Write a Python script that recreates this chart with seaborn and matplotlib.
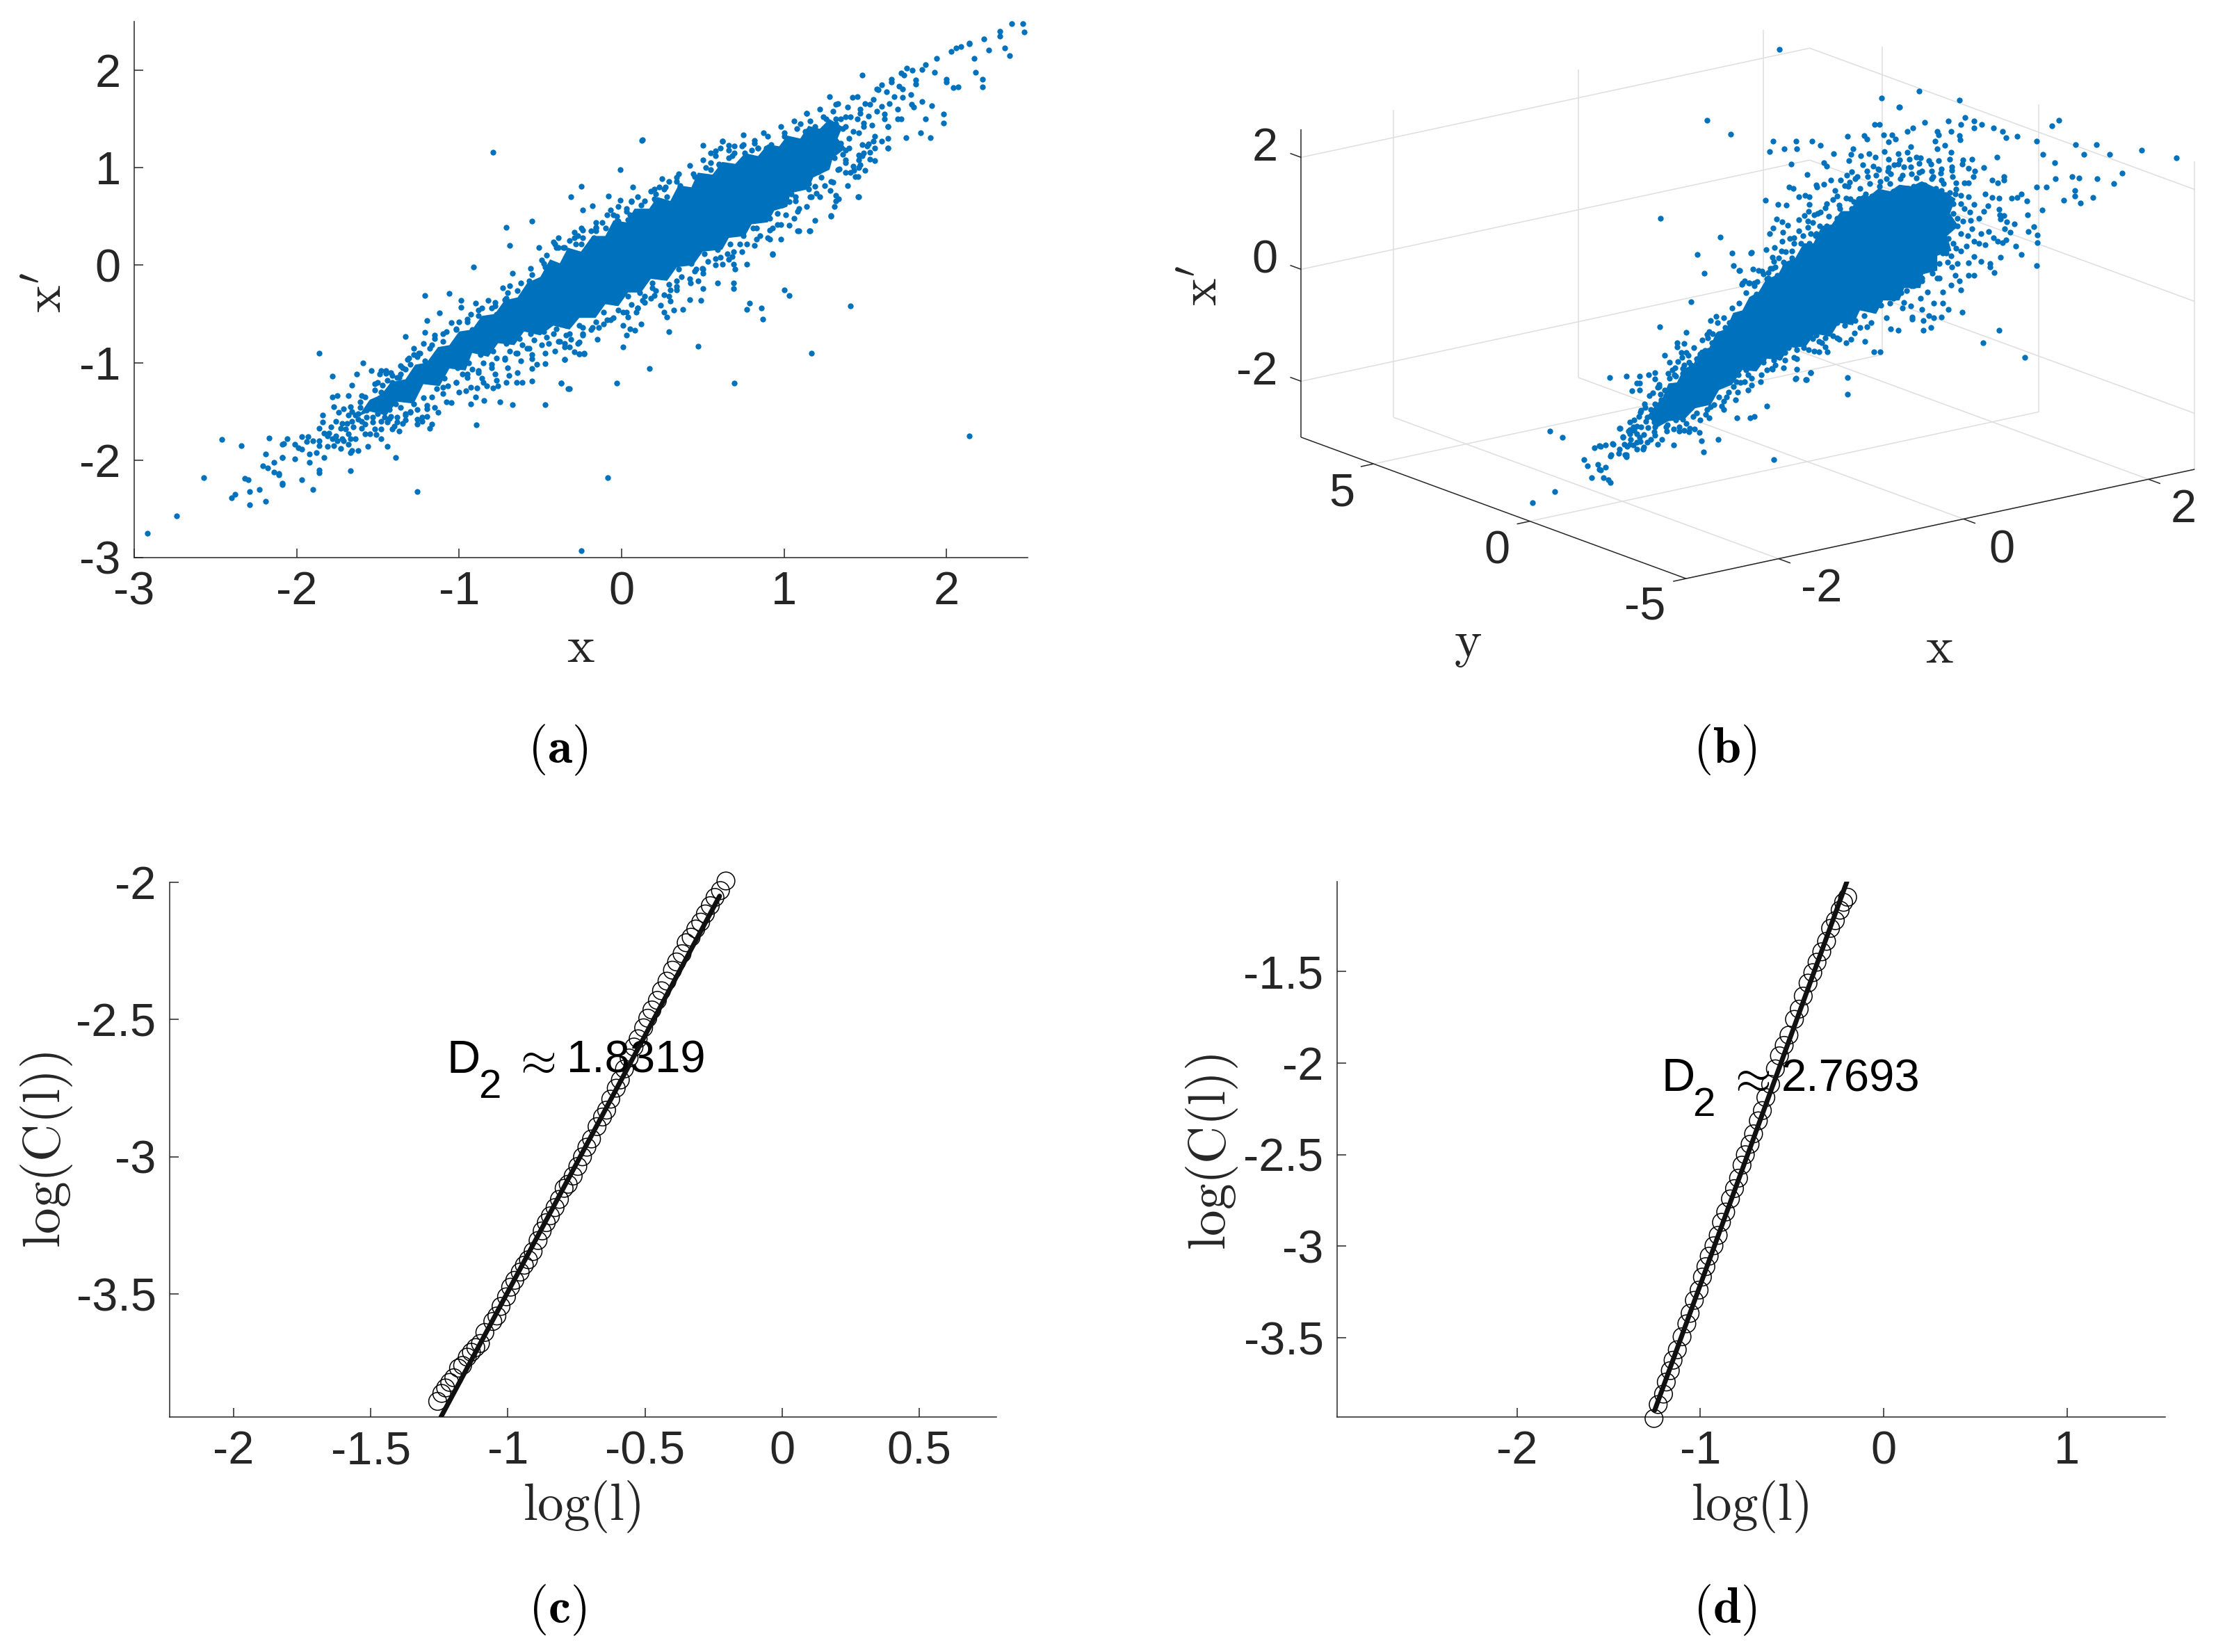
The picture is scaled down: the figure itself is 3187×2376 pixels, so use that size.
import numpy as np
import matplotlib
matplotlib.use("Agg")
import matplotlib.pyplot as plt
import seaborn as sns

W, H = 3187, 2376
BLUE = "#0072BD"
GREY = "#262626"

# ---------- panel (a): x against x' ----------
# Solid parts of the cloud, read as outlines, because thousands of overlapping dots merge there.
a_core_outline = [(-1.62,-1.55),(-1.55,-1.38),(-1.48,-1.33),(-1.42,-1.20),(-1.33,-1.17),(-1.27,-1.02),(-1.20,-1.00),(-1.13,-.84),(-1.06,-.82),(-1.0,-.68),(-.92,-.66),(-.86,-.52),(-.78,-.50),(-.72,-.36),(-.64,-.33),(-.58,-.18),(-.50,-.12),(-.44,.06),(-.38,.02),(-.33,.18),(-.25,.14),(-.18,.30),(-.10,.30),(-.05,.46),(.03,.44),(.08,.58),(.17,.58),(.22,.70),(.30,.66),(.35,.82),(.43,.80),(.47,.95),(.56,.93),(.62,1.06),(.70,1.04),(.76,1.15),(.84,1.12),(.90,1.24),(.97,1.22),(1.02,1.33),(1.10,1.30),(1.15,1.43),(1.22,1.40),(1.28,1.50),(1.36,1.42),(1.33,1.30),(1.38,1.20),(1.30,1.10),(1.28,.98),(1.18,.90),(1.15,.78),(1.04,.74),(1.02,.60),(.94,.56),(.90,.44),(.80,.42),(.76,.30),(.66,.28),(.62,.16),(.50,.14),(.44,.00),(.34,-.02),(.28,-.16),(.18,-.14),(.12,-.28),(.04,-.28),(-.02,-.42),(-.10,-.40),(-.16,-.54),(-.26,-.54),(-.32,-.66),(-.42,-.62),(-.50,-.72),(-.60,-.68),(-.66,-.82),(-.76,-.80),(-.82,-.94),(-.92,-.90),(-.96,-1.08),(-1.06,-1.06),(-1.12,-1.24),(-1.22,-1.22),(-1.28,-1.42),(-1.38,-1.40),(-1.45,-1.54),(-1.55,-1.50)]
a_lower_left = [(-2.92,-2.75),(-2.74,-2.57),(-2.57,-2.18),(-2.46,-1.79),(-2.34,-1.85),(-2.40,-2.39),(-2.38,-2.35),(-2.32,-2.19),(-2.30,-2.20),(-2.29,-2.32),(-2.29,-2.46),(-2.23,-2.30),(-2.19,-2.42),(-2.21,-2.06),(-2.18,-2.08),(-2.19,-1.94),(-2.17,-1.77),(-2.14,-2.02),(-2.14,-2.12),(-2.11,-2.15),(-2.09,-2.25),(-2.09,-1.97),(-2.08,-1.83),(-2.06,-1.78),(-2.09,-1.84),(-2.01,-1.84),(-1.99,-1.87),(-1.97,-1.89),(-1.92,-1.94),(-1.88,-1.92),(-1.83,-1.97),(-1.86,-1.85),(-1.81,-1.86),(-1.77,-1.85),(-1.73,-1.88),(-1.68,-1.84),(-1.66,-1.90),(-1.67,-1.92),(-1.62,-1.90),(-1.56,-1.86),(-1.44,-1.86),(-1.39,-1.97),(-2.09,-1.97),(-2.01,-1.99),(-1.92,-2.02),(-1.86,-2.10),(-1.86,-2.13),(-1.67,-2.11),(-2.11,-2.14),(-1.97,-2.20),(-2.09,-2.24),(-1.90,-2.30),(-1.26,-2.32),(-1.97,-1.76),(-1.93,-1.76),(-1.94,-1.81),(-1.90,-1.80),(-1.86,-1.80)]
a_band_left = [(-1.86,-.90),(-1.59,-1.00),(-1.78,-1.14),(-1.63,-1.12),(-1.54,-1.08),(-1.48,-1.08),(-1.45,-1.11),(-1.41,-1.13),(-1.49,-1.12),(-1.66,-1.23),(-1.52,-1.22),(-1.78,-1.35),(-1.75,-1.34),(-1.68,-1.34),(-1.60,-1.34),(-1.58,-1.35),(-1.61,-1.40),(-1.77,-1.45),(-1.67,-1.45),(-1.71,-1.47),(-1.74,-1.51),(-1.61,-1.46),(-1.68,-1.54),(-1.84,-1.54),(-1.76,-1.60),(-1.84,-1.61),(-1.69,-1.62),(-1.79,-1.66),(-1.86,-1.67),(-1.83,-1.72),(-1.73,-1.67),(-1.68,-1.73),(-1.64,-1.54),(-1.62,-1.58),(-1.58,-1.63),(-1.53,-1.56),(-1.53,-1.61),(-1.57,-1.49),(-1.51,-1.42),(-1.47,-1.32),(-1.44,-1.39),(-1.39,-1.42),(-1.34,-1.37),(-1.46,-1.51),(-1.46,-1.56),(-1.44,-1.61),(-1.43,-1.57),(-1.38,-1.56),(-1.38,-1.61),(-1.33,-1.59),(-1.33,-1.54),(-1.30,-1.51),(-1.26,-1.48),(-1.20,-1.47),(-1.20,-1.55),(-1.13,-1.51),(-1.23,-1.60),(-1.26,-1.63),(-1.17,-1.63),(-1.18,-1.67),(-1.41,-1.68),(-1.48,-1.68),(-1.52,-1.68),(-1.51,-1.74),(-1.58,-1.73),(-1.55,-1.73),(-1.48,-1.78),(-1.64,-1.78),(-1.71,-1.80),(-1.75,-1.80),(-1.78,-1.78),(-1.81,-1.75),(-1.66,-1.50),(-1.62,-1.52),(-1.66,-1.60),(-1.60,-1.60),(-1.57,-1.56),(-1.72,-1.62),(-1.70,-1.68),(-1.65,-1.66),(-1.60,-1.67),(-1.80,-1.72),(-1.76,-1.75),(-1.72,-1.78),(-1.67,-1.78),(-1.36,-1.03),(-1.31,-.95),(-1.26,-.94),(-1.33,-1.07),(-1.36,-1.12),(-1.41,-1.20),(-1.47,-1.23),(-1.48,-1.30),(-1.21,-.31),(-1.06,-.29),(-.99,-.36),(-.99,-.43),(-1.12,-.49),(-1.20,-.57),(-1.21,-.69),(-1.05,-.59),(-.90,-.39),(-.88,-.46),(-.82,-.36),(-.71,-.34),(-.73,-.23),(-.69,-.21),(-.67,-.08),(-.56,-.03),(-.48,.02),(-.41,.22),(-.51,.18),(-.29,.28),(-.91,-.015),(-1.33,-.73),(-1.28,-.85),(-1.32,-.97),(-1.45,-1.08),(-1.15,-.75),(-1.10,-.70),(-1.02,-.65),(-.95,-.55),(-.85,-.55),(-.78,-.42),(-1.18,-.85),(-1.25,-.90),(-1.38,-1.15)]
a_band_lower = [(-.895,-1.64),(-.47,-1.43),(-.67,-1.43),(-.75,-1.40),(-.845,-1.39),(-.93,-1.42),(-.90,-1.35),(-.96,-1.29),(-.89,-1.26),(-1.05,-1.41),(-.03,-1.21),(-.32,-1.27),(-.37,-1.21),(-.55,-1.19),(-.61,-1.20),(-.645,-1.20),(-.71,-1.20),(-.76,-1.24),(-.79,-1.26),(-.83,-1.24),(-.85,-1.20),(-.77,-1.18),(-.695,-1.13),(-.64,-1.10),(-.55,-1.06),(-.52,-1.02),(-.47,-1.01),(-.35,-.97),(-.55,-.92),(-.26,-.91),(-.23,-.90),(-.085,-2.18),(-.25,-2.93),(-.37,-1.21),(-.33,-1.27),(-1.10,-1.25),(-1.02,-1.20),(-.95,-1.12),(-.88,-1.08),(-.80,-1.02),(-.72,-.95),(-.65,-.90),(-.58,-.85),(-.45,-.80),(-.38,-.78)]
a_mid_upper = [(.125,1.28),(.50,1.23),(.62,1.27),(.66,1.23),(.695,1.22),(.75,1.24),(.82,1.25),(.89,1.20),(.84,1.20),(.80,1.18),(.58,1.17),(.55,1.15),(.695,1.15),(.66,1.10),(.55,1.05),(.55,.98),(.60,1.03),(-.01,.98),(.35,.94),(.45,.91),(.50,.91),(.25,.89),(.34,.86),(-.25,.81),(.07,.80),(.20,.78),(.27,.80),(.23,.80),(.21,.73),(-.31,.70),(-.08,.71),(-.01,.67),(.06,.65),(.14,.66),(.21,.66),(-.18,.61),(-.24,.57),(-.07,.57),(.03,.55),(-.03,.50),(-.02,.45),(.04,.47),(-.16,.39),(-.16,.35),(-.29,.34),(-.24,.28),(-.39,.28),(-.28,.22),(-.36,.18),(-.39,.18),(-.79,1.16),(.13,1.29),(-.55,.45),(-.71,.39),(-.69,.20),(-.25,.38),(-.16,.38)]
a_mid_lower = [(1.64,1.20),(1.55,1.27),(1.60,1.27),(1.53,1.16),(1.56,1.07),(1.51,1.22),(1.49,1.15),(1.46,1.13),(1.46,1.08),(1.47,1.03),(1.50,.97),(1.38,1.05),(1.43,.97),(1.44,.91),(1.38,.95),(1.29,.86),(1.285,.77),(1.335,.68),(1.46,.70),(1.31,.60),(1.29,.51),(1.19,.46),(1.16,.35),(1.085,.35),(1.03,.41),(1.085,.55),(1.20,.74),(1.19,.81),(1.09,.81),(1.16,.70),(1.07,.70),(1.03,.65),(.98,.27),(.91,.27),(.96,.42),(.91,.36),(.83,.27),(.93,.11),(.77,.01),(.68,.09),(.65,.12),(.62,.01),(.70,-.04),(.69,.01),(.59,-.18),(.69,-.18),(.69,-.24),(.50,-.24),(.425,-.18),(.47,-.16),(.50,-.08),(.46,-.04),(.34,-.16),(.34,-.25),(.30,-.25),(.29,-.32),(.30,-.37),(.20,-.31),(.19,-.23),(.14,-.32),(.14,-.38),(.42,-.35),(.49,-.36),(.24,-.41),(.32,-.46),(.375,-.45),(.26,-.48),(.28,-.53),(.09,-.48),(.10,-.44),(.04,-.53),(.01,-.48),(.12,-.60),(.08,-.67),(.05,-.65),(.01,-.62),(.03,-.72),(.29,-.68),(.01,-.84),(-.15,-.76),(-.26,-.79),(-.24,-.72),(-.24,-.64),(-.34,-.72),(-.31,-.76),(-.23,-.91),(-.26,-.91),(-.29,-.89),(-.32,-.84),(-.35,-.84),(-.35,-.97),(.47,-.83),(1.17,-.90),(1.41,-.42),(1.0,-.25),(1.03,-.31),(.79,-.39),(.77,-.45),(.86,-.44),(.87,-.55),(.17,-1.06),(.695,-1.21),(2.14,-1.755),(-.18,-.64),(-.14,-.64),(-.11,-.60),(-.07,-.56)]
a_upper_right = [(2.48,2.39),(2.47,2.48),(2.40,2.48),(2.36,2.23),(2.39,2.15),(2.33,2.40),(2.33,2.35),(2.26,2.21),(2.23,2.32),(2.22,1.91),(2.22,1.83),(2.18,1.98),(2.17,2.12),(2.14,2.27),(2.09,2.24),(2.04,1.82),(2.0,1.91),(1.98,1.55),(1.98,1.46),(1.90,1.31),(1.84,1.36),(1.75,1.31),(1.64,1.20),(1.455,.70),(1.32,.66),(1.29,.505),(1.155,.35),(1.09,.35),(.93,.12),(1.455,.91),(1.48,1.95),(.62,1.27),(.75,1.34),(.875,1.36),(1.0,1.32),(1.10,1.45),(1.14,1.56),(1.28,1.73),(1.32,1.65),(1.45,1.73),(1.53,1.65),(1.60,1.85),(1.66,1.91),(1.755,2.02),(1.87,2.06),(1.94,2.12),(2.03,2.19),(2.14,2.28),(2.06,2.23),(1.57,1.81),(1.72,1.97),(1.85,2.01),(1.925,1.98),(1.81,1.86),(1.73,1.81),(1.68,1.73),(1.60,1.63),(1.52,1.53),(1.45,1.50),(1.36,1.40),(1.26,1.30),(1.785,1.65),(1.87,1.50),(1.70,1.50),(1.64,1.42),(1.52,1.245),(1.425,1.015),(1.53,1.09),(1.34,.99),(1.85,1.68),(1.91,1.64),(2.0,1.88),(2.07,1.83),(1.62,1.50),(1.49,1.42),(1.47,1.60),(1.38,1.525),(1.32,1.45),(1.425,1.37),(1.26,1.50),(1.19,1.42),(1.13,1.37),(1.32,1.19),(1.36,1.14),(1.21,.96),(1.15,.84),(1.045,.73),(.96,.53),(.81,.38),(.73,.22),(.58,.07),(.495,-.03)]
a_fill_left = [(-1.50,-1.20),(-1.52,-1.28),(-1.49,-1.36),(-1.53,-1.45),(-1.50,-1.52),(-1.48,-1.60),(-1.42,-1.10),(-1.44,-1.18),(-1.41,-1.30),(-1.40,-1.40),(-1.43,-1.48),(-1.42,-1.55),(-1.40,-1.65),(-1.35,-1.05),(-1.37,-1.15),(-1.34,-1.22),(-1.36,-1.46),(-1.33,-1.52),(-1.35,-1.62),(-1.37,-1.70),(-1.28,-.92),(-1.30,-1.02),(-1.27,-1.10),(-1.29,-1.18),(-1.28,-1.42),(-1.30,-1.50),(-1.26,-1.58),(-1.22,-.80),(-1.24,-.90),(-1.21,-.98),(-1.23,-1.06),(-1.22,-1.36),(-1.20,-1.44),(-1.23,-1.56),(-1.15,-.72),(-1.17,-.82),(-1.14,-.92),(-1.16,-1.18),(-1.14,-1.27),(-1.17,-1.35),(-1.15,-1.46),(-1.08,-.68),(-1.10,-.78),(-1.07,-.85),(-1.09,-1.16),(-1.07,-1.24),(-1.10,-1.32),(-1.08,-1.40),(-1.00,-.58),(-1.02,-.66),(-.99,-.72),(-1.01,-1.05),(-.98,-1.12),(-1.02,-1.20),(-1.00,-1.30),(-.93,-.50),(-.95,-.58),(-.92,-.66),(-.94,-1.00),(-.92,-1.07),(-.95,-1.15),(-.93,-1.25),(-.86,-.44),(-.88,-.52),(-.85,-.60),(-.87,-.92),(-.85,-1.00),(-.88,-1.10),(-.86,-1.16),(-.78,-.38),(-.80,-.44),(-.77,-.50),(-.79,-.88),(-.77,-.95),(-.80,-1.05),(-.78,-1.12),(-.70,-.28),(-.72,-.35),(-.69,-.42),(-.71,-.80),(-.69,-.88),(-.72,-.97),(-.70,-1.05),(-.62,-.18),(-.64,-.26),(-.61,-.32),(-.63,-.75),(-.61,-.82),(-.64,-.90),(-.62,-.98),(-.55,-.10),(-.57,-.16),(-.54,-.24),(-.56,-.70),(-.54,-.77),(-.57,-.85),(-.55,-.96),(-.47,-.02),(-.49,.05),(-.46,.10),(-.48,-.68),(-.46,-.74),(-.49,-.82),(-.47,-.90)]
a_fill_mid = [(-.40,.18),(-.42,.24),(-.40,-.65),(-.42,-.70),(-.39,-.78),(-.41,-.88),(-.33,.10),(-.35,.18),(-.32,.25),(-.34,-.62),(-.32,-.70),(-.35,-.80),(-.25,.22),(-.27,.30),(-.24,.36),(-.26,-.62),(-.24,-.70),(-.27,-.80),(-.17,.28),(-.19,.35),(-.16,.44),(-.18,-.50),(-.16,-.58),(-.19,-.66),(-.10,.38),(-.12,.44),(-.09,.52),(-.11,-.48),(-.09,-.56),(-.03,.45),(-.05,.52),(-.02,.60),(-.04,-.38),(-.02,-.46),(-.05,-.54),(.05,.52),(.03,.58),(.06,.66),(.04,-.32),(.06,-.40),(.03,-.48),(.12,.62),(.10,.70),(.11,-.28),(.13,-.36),(.10,-.44),(.20,.68),(.18,.76),(.19,-.18),(.21,-.26),(.18,-.34),(.28,.70),(.26,.78),(.29,.86),(.27,-.12),(.29,-.20),(.26,-.30),(.36,.82),(.34,.90),(.35,-.04),(.37,-.12),(.34,-.22),(.44,.94),(.42,1.02),(.43,.02),(.45,-.06),(.42,-.14),(.52,1.00),(.50,1.08),(.51,.12),(.53,.04),(.50,-.04),(.60,1.04),(.58,1.12),(.61,1.20),(.59,.16),(.61,.08),(.58,.00),(.68,1.12),(.66,1.18),(.67,.22),(.69,.14),(.66,.06),(.76,1.15),(.74,1.22),(.75,.30),(.77,.22),(.74,.14),(.84,1.20),(.82,1.28),(.83,.38),(.85,.30),(.82,.20),(.92,1.24),(.90,1.32),(.91,.48),(.93,.38),(.90,.28)]
a_fill_right = [(1.00,1.36),(.98,1.42),(.99,.62),(1.01,.52),(.98,.42),(1.08,1.40),(1.06,1.48),(1.07,.66),(1.09,.58),(1.06,.48),(1.16,1.48),(1.14,1.56),(1.15,.78),(1.17,.70),(1.14,.60),(1.24,1.52),(1.22,1.60),(1.23,.90),(1.25,.82),(1.22,.70),(1.32,1.50),(1.30,1.58),(1.33,1.66),(1.31,1.10),(1.33,.98),(1.30,.85),(1.32,.72),(1.40,1.30),(1.38,1.42),(1.41,1.52),(1.39,1.62),(1.42,1.72),(1.40,1.20),(1.38,1.08),(1.41,.95),(1.39,.82),(1.48,1.24),(1.46,1.36),(1.49,1.46),(1.47,1.56),(1.50,1.66),(1.48,1.12),(1.46,1.00),(1.56,1.32),(1.54,1.44),(1.57,1.58),(1.55,1.70),(1.58,1.80),(1.56,1.20),(1.64,1.42),(1.62,1.55),(1.65,1.66),(1.63,1.78),(1.66,1.88),(1.64,1.30),(1.72,1.50),(1.70,1.60),(1.73,1.72),(1.71,1.84),(1.74,1.95),(1.80,1.62),(1.78,1.75),(1.81,1.90),(1.79,2.00),(1.25,1.05),(1.28,1.25),(1.35,1.25),(1.38,1.18),(1.35,1.50)]
a_xticks = [-3,-2,-1,0,1,2]
a_yticks = [-3,-2,-1,0,1,2]

# ---------- panel (b): cloud as seen on the view plane of the 3-D box ----------
b_core_outline = [(760,838),(772,815),(782,800),(790,772),(802,770),(812,742),(825,735),(835,705),(848,700),(858,670),(872,662),(882,630),(895,625),(905,598),(918,588),(930,560),(945,555),(955,528),(970,520),(982,490),(996,490),(1008,455),(1022,452),(1035,425),(1048,425),(1060,395),(1075,395),(1088,380),(1105,385),(1118,372),(1135,375),(1150,365),(1165,375),(1180,385),(1198,400),(1190,430),(1202,455),(1186,475),(1192,505),(1172,515),(1172,545),(1152,552),(1148,580),(1125,580),(1118,605),(1095,605),(1085,632),(1062,625),(1052,655),(1032,650),(1020,678),(998,672),(985,698),(962,700),(950,725),(928,722),(915,748),(895,745),(880,775),(862,785),(850,815),(828,822),(812,845),(790,848),(775,860)]
b_top = [(948,100),(845,242),(878,270),(1093,198),(1117,215),(1146,183),(1203,202),(939,284),(971,284),(994,284),(1006,293),(934,305),(954,300),(972,300),(1025,309),(964,330),(987,351),(1011,328),(1015,335),(1044,274),(1068,273),(1072,280),(1083,251),(1090,251),(1096,271),(1108,271),(1113,280),(1103,286),(1129,265),(1137,258),(1154,247),(1188,244),(1205,250),(1211,237),(1224,244),(1224,258),(1235,251),(1252,258),(1265,265),(1270,277),(1285,274),(1172,265),(1174,271),(1192,265),(1203,273),(1204,282),(1169,284),(1118,216)]
b_far_right = [(1313,284),(1335,254),(1345,242),(1368,291),(1398,291),(1380,311),(1322,311),(1339,328),(1340,360),(1363,356),(1373,359),(1399,360),(1313,377),(1327,377),(1367,384),(1367,395),(1352,403),(1375,409),(1393,398),(1512,318),(1462,302),(1417,311),(1435,349),(1423,370),(1267,356),(1267,363),(1258,368),(1250,363),(1257,317),(1238,337),(1221,320),(1208,322),(1207,330),(1216,339),(1225,344),(1223,356),(1216,368),(1210,368),(1240,391),(1250,398),(1260,399),(1278,399),(1285,397),(1291,391),(1299,405),(1321,423),(1300,432),(1260,421),(1261,432),(1267,434),(1262,441),(1271,447),(1281,451),(1268,461),(1276,468),(1301,466),(1309,456),(1314,473),(1314,489),(1283,495),(1291,513),(1313,535),(1262,518),(1247,530),(1247,537),(1253,549),(1234,526),(1224,554),(1216,554),(1270,483),(1265,489),(1258,486),(1252,479),(1245,466),(1234,470),(1240,493),(1231,490),(1244,414),(1238,425),(1231,439),(1216,396),(1205,393),(1224,411),(1218,427),(1219,444),(1221,461),(1224,486),(1213,495),(1224,516),(1216,529)]
b_right_lower = [(1198,500),(1187,528),(1193,537),(1197,554),(1203,565),(1192,574),(1205,584),(1180,588),(1175,560),(1167,611),(1180,611),(1188,623),(1207,628),(1178,638),(1167,640),(1160,635),(1152,646),(1152,665),(1163,660),(1260,665),(1237,690),(1296,720),(1150,623),(1158,588),(1136,638),(1136,642),(1134,616),(1124,609),(1116,665),(1106,662),(1091,709),(1082,709),(1069,688),(1072,658),(1054,670),(1042,690),(1049,683),(1032,683),(1024,676),(1013,681),(1016,709),(1013,699),(1004,709),(997,707),(989,704),(1004,687),(972,723),(972,744),(992,751),(985,764),(970,763),(1044,760),(1044,794),(948,719),(938,743),(922,754),(1160,510),(1175,480),(1190,460),(1200,440),(1210,420),(1195,410),(1205,470),(1195,490),(1185,510),(1175,530),(1165,550),(1150,560),(1135,575),(1120,590),(1110,600),(1090,605),(1075,615),(1055,625),(1050,640),(1030,650),(1020,665),(1000,675),(985,685),(970,695),(955,710),(940,725),(925,730)]
b_upper_band = [(928,403),(946,412),(957,413),(961,377),(967,379),(975,396),(984,393),(990,396),(990,412),(989,426),(1013,419),(1000,372),(1001,377),(1011,371),(1021,363),(1034,363),(1040,374),(1047,367),(1043,353),(1050,346),(1055,360),(1046,324),(1049,311),(1052,300),(1066,332),(1063,314),(1075,309),(1084,316),(1097,305),(1081,335),(1089,341),(1103,320),(1116,309),(1118,322),(1134,295),(1129,306),(1142,316),(1146,329),(1160,323),(1172,299),(1183,293),(1192,307),(1190,321),(1174,324),(1164,344),(1177,349),(1193,343),(1193,336),(1146,347),(1134,336),(1124,336),(1111,332),(1103,337),(1106,350),(1122,353),(1085,353),(1073,356),(1142,359),(1100,360),(1164,360),(1178,362),(1198,368),(1198,381),(1178,383),(1190,388),(1027,383),(1024,402),(1042,399),(1032,413),(1053,406),(1067,397),(1006,427),(997,432),(983,434),(975,442),(995,448),(944,441),(951,447),(959,454),(939,459),(934,470),(952,468),(951,486),(941,498),(929,503),(907,509),(910,542),(891,544),(923,546),(932,549),(916,567),(898,565),(904,570),(894,572),(968,479),(981,474),(988,458),(999,474),(968,490),(988,495),(956,507),(947,520),(940,527),(942,537),(932,560),(938,572),(1090,375),(1110,385),(1130,380),(1150,375),(1165,385),(1085,395),(1100,400),(1070,390),(1060,400),(1050,420),(1030,440),(1015,455),(1000,470),(990,490),(980,510),(965,520),(955,535),(945,555),(930,575),(779,439),(864,478),(831,513),(841,550),(880,510),(908,508),(882,535),(890,545),(918,545),(905,570),(895,570),(938,540)]
b_lower_left = [(778,658),(815,669),(802,690),(802,698),(812,692),(845,674),(853,672),(850,646),(858,637),(808,710),(815,710),(809,720),(784,716),(819,730),(791,730),(799,741),(810,742),(789,752),(771,750),(762,755),(771,763),(749,757),(730,757),(706,760),(749,771),(777,774),(777,779),(791,761),(798,754),(738,787),(749,785),(768,791),(763,797),(784,786),(779,794),(756,814),(757,821),(751,826),(771,814),(741,846),(721,862),(733,868),(741,866),(745,873),(735,874),(725,879),(736,885),(749,880),(750,889),(727,895),(731,899),(740,896),(711,895),(701,896),(694,899),(754,904),(765,885),(781,885),(771,877),(787,868),(786,859),(761,861),(771,859),(751,859),(797,864),(797,896),(805,859),(812,867),(819,869),(827,864),(834,871),(837,888),(861,885),(840,910),(940,925),(887,842),(906,842),(912,839),(930,818),(810,844),(830,832),(843,835),(850,819),(866,818),(868,808),(872,799),(888,790),(903,786),(908,776),(886,768),(898,768),(921,768),(971,762),(986,764),(992,751),(972,704),(953,740),(937,742),(903,754),(889,754),(707,919),(719,913),(728,915),(730,920),(701,941),(694,946),(698,962),(704,966),(707,972),(597,1012),(628,990),(621,868),(639,880),(670,925),(675,938),(690,935),(692,945),(681,962),(685,902),(692,897),(710,893),(720,862),(735,865),(745,858),(725,880),(735,895),(755,900),(708,915),(730,915),(745,772),(775,780),(822,608),(750,830),(760,840),(770,850),(740,860),(755,875),(770,870),(745,890),(720,905),(735,850),(748,838),(758,848),(765,825),(780,805),(745,905),(760,890),(775,895)]
b_fill_upper = [(795,745),(803,728),(800,757),(812,735),(818,715),(810,752),(826,700),(830,722),(822,735),(838,685),(842,705),(835,712),(848,668),(852,690),(846,680),(860,650),(862,672),(868,640),(870,660),(876,650),(880,620),(884,640),(890,610),(893,632),(888,650),(900,590),(904,612),(900,634),(898,650),(912,570),(915,592),(910,610),(917,630),(912,575),(925,552),(928,575),(922,598),(930,562),(935,540),(938,518),(942,560),(945,580),(950,505),(953,528),(956,548),(948,570),(962,480),(965,505),(968,530),(960,555),(975,465),(978,490),(982,515),(972,540),(988,445),(992,470),(995,495),(985,520),(1002,430),(1005,455),(1008,480),(1000,500),(1015,410),(1018,435),(1022,462),(1012,485),(1030,395),(1033,420),(1036,445),(1028,470),(1045,375),(1048,400),(1050,425),(1042,450),(1058,355),(1062,380),(1065,405),(1056,430),(1072,345),(1076,370),(1079,395),(1070,415),(1088,340),(1091,365),(1094,390),(1085,410),(1102,345),(1105,370),(1108,395),(1100,410),(1116,330),(1119,360),(1122,385),(1114,400),(1132,320),(1135,350),(1138,375),(1128,392),(1148,318),(1150,345),(1154,372),(1145,385),(1163,330),(1166,355),(1170,380),(1160,392),(1178,340),(1181,370),(1184,392),(1194,355),(1197,390),(1205,410)]
b_fill_lower = [(775,842),(788,855),(800,845),(815,852),(805,868),(825,838),(835,845),(820,862),(845,825),(855,815),(848,842),(862,800),(875,790),(868,825),(882,778),(892,770),(885,805),(900,745),(915,735),(908,762),(925,722),(935,715),(930,745),(948,705),(960,700),(942,735),(955,725),(975,672),(985,668),(970,695),(982,700),(968,720),(1000,660),(1012,662),(995,682),(1008,690),(1022,645),(1035,640),(1018,670),(1030,680),(1045,625),(1058,610),(1040,655),(1055,645),(1062,660),(1072,605),(1085,595),(1068,635),(1082,625),(1078,650),(1095,592),(1108,580),(1092,615),(1105,610),(1100,640),(1118,570),(1130,562),(1115,595),(1128,585),(1122,620),(1142,548),(1155,540),(1138,575),(1150,565),(1148,600),(1165,500),(1175,470),(1168,530),(1180,510),(1172,560),(1186,440),(1195,430),(1188,480),(1200,455),(1192,515),(1208,445),(1215,475),(1205,505),(1200,530)]
b_xticks = [-2, 0, 2]
b_yticks = [-5, 0, 5]
b_zticks = [-2, 0, 2]
b_xlim = (-3, 2.5)
b_ylim = (-5, 7.32)
b_zlim = (-3, 2.5)

# ---------- panels (c) and (d): correlation sums ----------
c_log_l = [-1.256,-1.241,-1.227,-1.212,-1.197,-1.180,-1.165,-1.148,-1.133,-1.117,-1.100,-1.084,-1.055,-1.040,-1.025,-1.005,-.990,-.975,-.955,-.940,-.925,-.908,-.890,-.875,-.860,-.845,-.828,-.812,-.795,-.780,-.762,-.745,-.728,-.712,-.695,-.675,-.655,-.640,-.625,-.605,-.590,-.575,-.558,-.540,-.525,-.505,-.490,-.475,-.455,-.440,-.420,-.400,-.385,-.365,-.350,-.332,-.315,-.297,-.280,-.262,-.245,-.225,-.205]
c_log_c = [-3.891,-3.862,-3.842,-3.822,-3.805,-3.770,-3.760,-3.730,-3.712,-3.695,-3.680,-3.640,-3.600,-3.580,-3.545,-3.510,-3.475,-3.450,-3.420,-3.395,-3.375,-3.345,-3.305,-3.270,-3.240,-3.215,-3.185,-3.155,-3.115,-3.100,-3.070,-3.035,-3.000,-2.965,-2.935,-2.890,-2.855,-2.830,-2.790,-2.750,-2.720,-2.680,-2.640,-2.600,-2.570,-2.530,-2.495,-2.465,-2.430,-2.395,-2.360,-2.320,-2.290,-2.260,-2.220,-2.200,-2.170,-2.145,-2.115,-2.085,-2.055,-2.030,-1.995]
c_fit_x = [-1.244, -0.228]
c_fit_y = [-3.948, -2.050]
d_log_l = [-1.253,-1.230,-1.201,-1.186,-1.164,-1.149,-1.126,-1.100,-1.074,-1.056,-1.033,-1.007,-.989,-.970,-.952,-.926,-.903,-.885,-.862,-.836,-.814,-.792,-.773,-.755,-.729,-.710,-.684,-.662,-.643,-.617,-.591,-.569,-.543,-.517,-.487,-.461,-.439,-.413,-.387,-.364,-.338,-.312,-.290,-.264,-.238,-.219,-.197]
d_log_c = [-3.940,-3.864,-3.807,-3.741,-3.679,-3.622,-3.565,-3.494,-3.423,-3.366,-3.295,-3.239,-3.168,-3.111,-3.054,-2.997,-2.940,-2.869,-2.813,-2.741,-2.685,-2.628,-2.557,-2.500,-2.443,-2.386,-2.315,-2.259,-2.188,-2.116,-2.031,-1.960,-1.903,-1.847,-1.761,-1.705,-1.634,-1.563,-1.506,-1.449,-1.392,-1.335,-1.264,-1.222,-1.165,-1.122,-1.094]
d_fit_x = [-1.249, -0.201]
d_fit_y = [-3.895, -1.009]
c_xticks = [-2,-1.5,-1,-0.5,0,0.5]
c_yticks = [-3.5,-3,-2.5,-2]
d_xticks = [-2,-1,0,1]
d_yticks = [-3.5,-3,-2.5,-2,-1.5]
c_label = "1.8319"
d_label = "2.7693"

sns.set_theme(style="white")
plt.rcParams.update({
    "font.family": ["Liberation Sans", "DejaVu Sans"],
    "axes.unicode_minus": False,
    "mathtext.fontset": "cm",
    "text.color": GREY,
})

fig = plt.figure(figsize=(W / 100, H / 100), dpi=100, facecolor="white")


def panel(left, top, right, bottom):
    return fig.add_axes([left / W, 1 - bottom / H, (right - left) / W, (bottom - top) / H])


def style(ax, xt, yt, xlim, ylim):
    ax.set_xlim(*xlim)
    ax.set_ylim(*ylim)
    ax.set_xticks(xt, [f"{t:g}" for t in xt])
    ax.set_yticks(yt, [f"{t:g}" for t in yt])
    ax.tick_params(axis="x", direction="in", length=9.5, width=1.1, color=GREY, labelcolor=GREY, labelsize=48, pad=14, bottom=True)
    ax.tick_params(axis="y", direction="in", length=9.5, width=1.1, color=GREY, labelcolor=GREY, labelsize=48, pad=14, left=True)
    sns.despine(ax=ax)
    for s in ("left", "bottom"):
        ax.spines[s].set_color(GREY)
        ax.spines[s].set_linewidth(1.1)


def labels(ax, xl, yl, xpos, ypos):
    ax.set_xlabel(xl, fontsize=54, color=GREY)
    ax.set_ylabel(yl, fontsize=54, color=GREY)
    ax.xaxis.set_label_coords(xpos[0] / W, 1 - xpos[1] / H, transform=fig.transFigure)
    ax.yaxis.set_label_coords(ypos[0] / W, 1 - ypos[1] / H, transform=fig.transFigure)
    ax.xaxis.label.set_va("center")
    ax.yaxis.label.set_va("center")


def dots(ax, groups):
    pts = np.array([p for g in groups for p in g], dtype=float)
    sns.scatterplot(x=pts[:, 0], y=pts[:, 1], ax=ax, color=BLUE, s=36, linewidth=0, clip_on=False, zorder=3)


def caption(letter, px, py):
    fig.text(px / W, 1 - py / H, rf"$(\mathbf{{{letter}}})$", ha="center", va="center", fontsize=52, color="black")


# panel (a)
ax = panel(193, 31, 1478, 802)
core = np.array(a_core_outline)
ax.fill(core[:, 0], core[:, 1], color=BLUE, lw=0, zorder=2)
dots(ax, [a_lower_left, a_band_left, a_band_lower, a_mid_upper, a_mid_lower, a_upper_right, a_fill_left, a_fill_mid, a_fill_right])
style(ax, a_xticks, a_yticks, (-3, 2.5), (-3, 2.5))
labels(ax, r"$\mathrm{x}$", r"$\mathrm{x}'$", (835, 932), (69, 421))
caption("a", 802, 1079)

# panel (b): the 3-D box is projected with MATLAB-like orthographic axes
ax = panel(1600, 0, 3187, 1120)
ax.set_xlim(0, 1568)
ax.set_ylim(1568, 0)
ax.axis("off")


def project(x, y, z):
    return (815 + 131.4 * (x + 3) - 44.4 * (y + 5),
            1165 - 40.0 * (x + 3) - 23.1 * (y + 5) - 112.7 * (z + 3))


def seg(p, q, color, lw):
    a, b = project(*p), project(*q)
    ax.plot([a[0], b[0]], [a[1], b[1]], color=color, lw=lw, zorder=1, solid_capstyle="butt")


x0, x1 = b_xlim
y0, y1 = b_ylim
z0, z1 = b_zlim
G = "#DEDEDE"
for t in b_xticks:
    seg((t, y1, z0), (t, y1, z1), G, 1.1)
    seg((t, y0, z0), (t, y1, z0), G, 1.1)
for t in b_yticks:
    seg((x1, t, z0), (x1, t, z1), G, 1.1)
    seg((x0, t, z0), (x1, t, z0), G, 1.1)
for t in b_zticks:
    seg((x0, y1, t), (x1, y1, t), G, 1.1)
    seg((x1, y1, t), (x1, y0, t), G, 1.1)
seg((x0, y0, z0), (x1, y0, z0), GREY, 1.1)
seg((x0, y0, z0), (x0, y1, z0), GREY, 1.1)
seg((x0, y1, z0), (x0, y1, z1), GREY, 1.1)
for t in b_xticks:
    seg((t, y0, z0), (t, y0 - 0.38, z0), GREY, 1.1)
for t in b_yticks:
    seg((x0, t, z0), (x0 - 0.14, t, z0), GREY, 1.1)
for t in b_zticks:
    seg((x0, y1, t), (x0, y1 + 0.35, t), GREY, 1.1)
core = np.array(b_core_outline)
ax.fill(core[:, 0], core[:, 1], color=BLUE, lw=0, zorder=2)
dots(ax, [b_top, b_far_right, b_right_lower, b_upper_band, b_lower_left, b_fill_upper, b_fill_lower])
ax.set_xlim(0, 1568)
ax.set_ylim(1568, 0)
for t, off in zip(b_xticks, [(61, 62), (54, 64), (50, 62)]):
    u, v = project(t, y0, z0)
    ax.text(u + off[0], v + off[1], f"{t:g}", fontsize=48, ha="center", va="center", color=GREY)
for t, off in zip(b_yticks, [(-58, 58), (-47, 61), (-45, 61)]):
    u, v = project(x0, t, z0)
    ax.text(u + off[0], v + off[1], f"{t:g}", fontsize=48, ha="center", va="center", color=GREY)
for t in b_zticks:
    u, v = project(x0, y1, t)
    ax.text(u - 33, v - 17, f"{t:g}", fontsize=48, ha="right", va="center", color=GREY)
fig.text(2789 / W, 1 - 933 / H, r"$\mathrm{x}$", fontsize=54, ha="center", va="center", color=GREY)
fig.text(2111 / W, 1 - 928 / H, r"$\mathrm{y}$", fontsize=54, ha="center", va="center", color=GREY)
fig.text(1730 / W, 1 - 411 / H, r"$\mathrm{x}'$", fontsize=54, ha="center", va="center", rotation=90, color=GREY)
caption("b", 2481, 1079)


def corr_panel(rect, log_l, log_c, fit_x, fit_y, xt, yt, xlim, ylim, value, text_xy, xpos, ypos):
    ax = panel(*rect)
    sns.lineplot(x=fit_x, y=fit_y, ax=ax, color="#111111", linewidth=5, zorder=4, estimator=None, sort=False, clip_on=True)
    sns.scatterplot(x=log_l, y=log_c, ax=ax, s=340, marker="o", color="black", clip_on=False, zorder=3)
    pc = ax.collections[-1]
    pc.set_facecolor("none")
    pc.set_edgecolor("black")
    pc.set_linewidth(1.1)
    style(ax, xt, yt, xlim, ylim)
    labels(ax, r"$\mathrm{log(l)}$", r"$\mathrm{log(C(l))}$", xpos, ypos)
    parts = [("D", 0, 0, 48, {}), ("2", 45, -38, 42, {}),
             (r"$\approx$", 94, -2, 48, {"math_fontfamily": "cm"}), (value, 172, 0, 47, {})]
    for txt, dx, dy, size, extra in parts:
        ax.annotate(txt, xy=text_xy, xytext=(dx, dy), textcoords="offset pixels", fontsize=size,
                    color="black", ha="left", va="center", zorder=5, **extra)


corr_panel((244, 1269, 1433, 2038), c_log_l, c_log_c, c_fit_x, c_fit_y, c_xticks, c_yticks,
           (-2.233, 0.781), (-3.948, -2.0), c_label, (-1.222, -2.651), (837, 2167), (67, 1654))
caption("c", 802, 2316)
corr_panel((1923, 1268, 3114, 2038), d_log_l, d_log_c, d_fit_x, d_fit_y, d_xticks, d_yticks,
           (-2.981, 1.535), (-3.932, -1.009), d_label, (-1.212, -2.088), (2517, 2167), (1743, 1657))
caption("d", 2481, 2316)

fig.savefig("out.png", dpi=100, facecolor="white")
